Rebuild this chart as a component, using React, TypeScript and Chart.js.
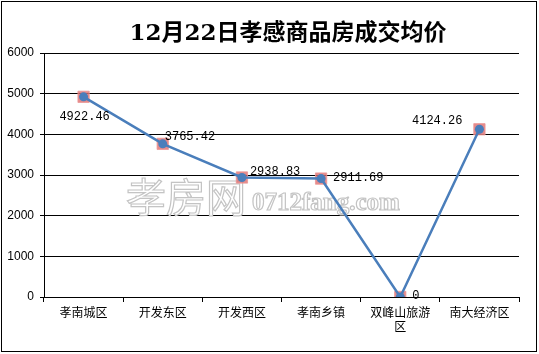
import React, { useEffect, useRef } from "react";
import { Chart, registerables } from "chart.js";

Chart.register(...registerables);

const titleText = "12月22日孝感商品房成交均价";
const categories: (string | string[])[] = ["孝南城区", "开发东区", "开发西区", "孝南乡镇", ["双峰山旅游", "区"], "南大经济区"];
const prices = [4922.46, 3765.42, 2938.83, 2911.69, 0, 4124.26];
const priceLabels = ["4922.46", "3765.42", "2938.83", "2911.69", "0", "4124.26"];
const yTicks = [0, 1000, 2000, 3000, 4000, 5000, 6000];

// label offsets relative to point (dx, dy, align)
const labelPlacement: [number, number, CanvasTextAlign][] = [
  [1, 20, "center"],
  [2, -7, "left"],
  [8, -6, "left"],
  [12, -1, "left"],
  [12, -1, "left"],
  [-17, -8, "right"],
];

const decorPlugin = {
  id: "decor",
  beforeDraw(chart: any) {
    const ctx = chart.ctx;
    ctx.save();
    ctx.fillStyle = "#ffffff";
    ctx.fillRect(0, 0, chart.width, chart.height);
    ctx.restore();
  },
  beforeDatasetsDraw(chart: any) {
    const ctx = chart.ctx;
    ctx.save();
    // watermark
    ctx.strokeStyle = "#c4c4c4";
    ctx.fillStyle = "#ffffff";
    ctx.lineWidth = 1.2;
    ctx.textBaseline = "alphabetic";
    ctx.textAlign = "left";
    ctx.font = "40px 'Noto Sans CJK SC'";
    ctx.fillText("孝房网", 126, 212);
    ctx.strokeText("孝房网", 126, 212);
    ctx.font = "bold 25px 'Liberation Serif'";
    ctx.fillText("0712fang.com", 252, 210);
    ctx.strokeText("0712fang.com", 252, 210);
    ctx.restore();
  },
  afterDraw(chart: any) {
    const ctx = chart.ctx;
    ctx.save();
    // border
    ctx.strokeStyle = "#000000";
    ctx.lineWidth = 1;
    ctx.strokeRect(1.5, 1.5, 535, 350);
    // title
    ctx.fillStyle = "#000000";
    ctx.font = "bold 23px 'DejaVu Serif', 'Noto Sans CJK SC'";
    ctx.textAlign = "center";
    ctx.textBaseline = "middle";
    ctx.fillText(titleText, 288, 34);
    // data labels
    const meta = chart.getDatasetMeta(1);
    ctx.font = "12px 'Liberation Mono'";
    ctx.textBaseline = "middle";
    meta.data.forEach((pt: any, i: number) => {
      const [dx, dy, al] = labelPlacement[i];
      ctx.textAlign = al;
      ctx.fillText(priceLabels[i], pt.x + dx, pt.y + dy);
    });
    ctx.restore();
  },
};

export default function App() {
  const ref = useRef<HTMLCanvasElement | null>(null);
  useEffect(() => {
    if (!ref.current) return;
    const chart = new Chart(ref.current, {
      type: "line",
      data: {
        labels: categories,
        datasets: [
          {
            data: prices,
            showLine: false,
            pointStyle: "rect",
            pointRadius: 8,
            pointBackgroundColor: "rgba(222,110,110,0.8)",
            pointBorderColor: "rgba(235,150,150,0.8)",
            pointBorderWidth: 1,
            order: 2,
          },
          {
            data: prices,
            borderColor: "#4a7ebb",
            borderWidth: 2.5,
            tension: 0,
            pointStyle: "circle",
            pointRadius: 4.5,
            pointBackgroundColor: "#4a7ebb",
            pointBorderColor: "#4a7ebb",
            pointBorderWidth: 0,
            order: 1,
          },
        ],
      },
      options: {
        responsive: false,
        animation: false,
        layout: { padding: { left: 0, right: 20, top: 53, bottom: 0 } },
        plugins: { legend: { display: false }, title: { display: false }, tooltip: { enabled: false } },
        scales: {
          x: {
            offset: true,
            grid: { display: true, drawOnChartArea: false, offset: true, color: "#000", tickLength: 5, tickWidth: 1 },
            border: { color: "#000", width: 1 },
            ticks: { color: "#000", font: { family: "'Noto Sans CJK SC'", size: 12 }, padding: 3, maxRotation: 0, autoSkip: false },
            afterFit: (s: any) => { s.height = 57; },
          },
          y: {
            min: 0,
            max: 6000,
            afterBuildTicks: (s: any) => { s.ticks = yTicks.map((v) => ({ value: v })); },
            grid: { color: "#000", tickLength: 4, lineWidth: 1 },
            border: { color: "#000", width: 1 },
            ticks: { color: "#000", font: { family: "'Liberation Sans'", size: 12 }, padding: 6, callback: (v: any) => String(v) },
            afterFit: (s: any) => { s.width = 44; },
          },
        },
      },
      plugins: [decorPlugin],
    });
    return () => chart.destroy();
  }, []);
  return (
    <div style={{ position: "fixed", left: 0, top: 0, width: 539, height: 354 }}>
      <canvas ref={ref} width={539} height={354} style={{ display: "block" }} />
    </div>
  );
}
